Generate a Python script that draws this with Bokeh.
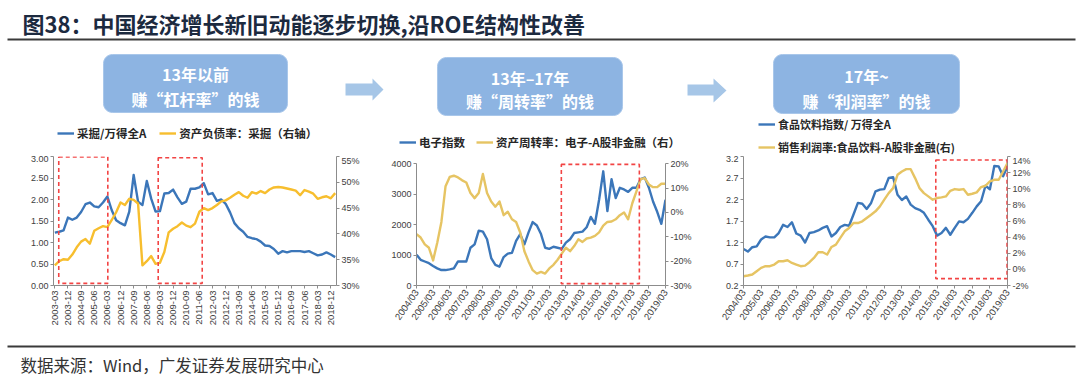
import math
from bokeh.plotting import figure
from bokeh.models import (Range1d, LinearAxis, FixedTicker, NumeralTickFormatter,
                          PrintfTickFormatter, Legend, LegendItem, BoxAnnotation)
from bokeh.layouts import column, row
from bokeh.embed import file_html
from bokeh.resources import INLINE
from bokeh.core.properties import value

# ---------------- data ----------------
title_text = "图38：中国经济增长新旧动能逐步切换,沿ROE结构性改善"
source_text = "数据来源：Wind，广发证券发展研究中心"
box_line1 = ["13年以前", "13年–17年", "17年~"]
box_line2 = ["赚“杠杆率”的钱", "赚“周转率”的钱", "赚“利润率”的钱"]

# chart 1 : quarterly 2003-03 .. 2019-03
c1_tick_labels = ["2003-03", "2003-12", "2004-09", "2005-06", "2006-03", "2006-12",
                  "2007-09", "2008-06", "2009-03", "2009-12", "2010-09", "2011-06",
                  "2012-03", "2012-12", "2013-09", "2014-06", "2015-03", "2015-12",
                  "2016-09", "2017-06", "2018-03", "2018-12"]
c1_names = ["采掘/万得全A", "资产负债率：采掘（右轴）"]
c1_blue = [1.23, 1.25, 1.28, 1.58, 1.53, 1.58, 1.71, 1.89, 1.93, 1.84,
           1.82, 1.93, 2.07, 1.75, 1.52, 1.45, 1.40, 1.72, 2.57, 1.95,
           1.87, 2.43, 2.02, 1.72, 1.73, 2.14, 2.15, 2.23, 2.05, 1.90,
           1.95, 2.25, 2.25, 2.28, 2.38, 2.12, 2.15, 1.97, 2.00, 1.90,
           1.70, 1.45, 1.33, 1.25, 1.13, 1.10, 1.08, 1.02, 0.93, 0.92,
           0.85, 0.74, 0.80, 0.77, 0.80, 0.80, 0.80, 0.78, 0.80, 0.75,
           0.70, 0.72, 0.77, 0.72, 0.66]
c1_yellow = [33.9, 34.7, 35.1, 35.0, 36.0, 37.4, 38.5, 39.0, 38.1, 40.6,
             41.1, 41.5, 41.3, 42.7, 44.2, 46.1, 45.6, 46.8, 46.6, 45.9,
             33.9, 34.7, 35.7, 34.2, 34.4, 36.5, 40.3, 41.0, 41.5, 42.2,
             41.6, 41.3, 42.0, 44.3, 45.0, 44.6, 45.0, 45.6, 46.3, 46.5,
             47.0, 47.6, 48.1, 47.4, 47.0, 48.1, 47.8, 48.3, 47.9, 48.6,
             49.0, 49.1, 49.0, 48.8, 48.6, 48.4, 47.5, 48.5, 48.2, 47.8,
             46.8, 47.1, 47.3, 46.9, 47.9]

# charts 2 and 3 : quarterly 2004/03 .. 2019/03
c23_tick_labels = ["2004/03", "2005/03", "2006/03", "2007/03", "2008/03", "2009/03",
                   "2010/03", "2011/03", "2012/03", "2013/03", "2014/03", "2015/03",
                   "2016/03", "2017/03", "2018/03", "2019/03"]
c2_names = ["电子指数", "资产周转率：电子-A股非金融（右）"]
c2_blue = [1014, 845, 789, 732, 642, 563, 507, 507, 530, 563,
           789, 789, 789, 1240, 1352, 1803, 1770, 1521, 902, 676,
           620, 935, 1048, 1071, 1465, 1690, 1352, 1747, 2085, 1972,
           1690, 1240, 1206, 1273, 1240, 1206, 1409, 1521, 1724, 1747,
           1770, 1916, 2254, 2029, 2817, 3753, 2446, 3494, 2874, 3212,
           3156, 3077, 3212, 3212, 3494, 3550, 3212, 2761, 2423, 2029, 2817]
c2_yellow = [-8.9, -10.3, -13.1, -14.5, -19.7, -12.4, -3.9, 10.8, 14.6, 15.1,
             14.4, 13.2, 12.3, 8.0, 5.9, 8.0, 15.8, 8.0, 4.5, 2.4,
             4.5, -1.1, 0.3, -2.8, -3.9, -8.2, -15.9, -20.1, -23.7, -25.1,
             -24.4, -25.1, -23.0, -21.5, -19.4, -16.9, -14.5, -15.9, -13.8, -11.0,
             -12.1, -10.7, -10.3, -9.6, -8.2, -5.4, -3.9, -3.7, -2.8, -1.1,
             0.0, -2.8, 3.8, 8.7, 13.7, 14.1, 11.5, 10.4, 10.4, 11.8, 11.8]
c3_names = ["食品饮料指数/ 万得全A", "销售利润率:食品饮料-A股非金融(右)"]
c3_blue = [1.05, 0.99, 1.09, 1.11, 1.27, 1.34, 1.32, 1.32, 1.42, 1.61,
           1.56, 1.67, 1.41, 1.36, 1.20, 1.42, 1.44, 1.48, 1.54, 1.58,
           1.34, 1.42, 1.56, 1.61, 1.59, 1.85, 2.12, 2.10, 1.98, 2.12,
           2.39, 2.43, 2.44, 2.70, 2.72, 2.31, 2.19, 2.27, 2.08, 2.00,
           1.96, 1.89, 1.73, 1.58, 1.36, 1.42, 1.54, 1.38, 1.54, 1.69,
           1.67, 1.75, 1.89, 2.04, 2.16, 2.52, 2.44, 2.98, 2.97, 2.74, 2.97]
c3_yellow = [-0.85, -0.76, -0.64, -0.23, 0.19, 0.39, 0.39, 0.60, 1.01, 1.01,
             1.13, 0.80, 0.60, 0.39, 0.47, 0.89, 1.42, 2.12, 2.12, 1.84,
             2.78, 3.07, 3.90, 4.72, 5.13, 5.75, 5.75, 5.96, 6.37, 6.78,
             7.20, 7.81, 8.64, 9.46, 10.08, 11.73, 12.14, 12.43, 12.43, 11.32,
             10.08, 9.46, 9.05, 8.64, 8.85, 8.93, 9.05, 9.75, 9.96, 9.88,
             9.96, 9.26, 9.38, 9.55, 10.21, 10.37, 10.91, 11.11, 11.11, 12.14, 13.18]

# ---------------- styles ----------------
CJK = "Noto Sans CJK SC"
LAT = "Liberation Sans"
BLUE = "#3B76B9"
GOLD1 = "#F7BE2E"
GOLD2 = "#E6C463"
RED = "#F24444"
AXIS_C = "#8C8C8C"
LBL_C = "#404040"
BOX_C = "#8DB4E2"
ARROW_C = "#A6C6E7"
HDR_H = 155          # header height (page y 0..155)
ROW_H = 185          # charts row from 155 to 340
BT, BB = 1, 55       # chart frames from y=156 to y=285


def style_axis(ax, size="9px"):
    ax.axis_line_color = AXIS_C
    ax.major_tick_line_color = AXIS_C
    ax.major_tick_out = 3
    ax.major_tick_in = 0
    ax.minor_tick_line_color = None
    ax.major_label_text_font = LAT
    ax.major_label_text_font_size = size
    ax.major_label_text_color = LBL_C
    ax.major_label_standoff = 2


def make_chart(width, bl, br, xr, yl, yl_bounds, yr, yr_bounds, ticks_x, labels_x,
               orient, yl_ticks, yl_fmt, yr_ticks, xs, blue, yellow, gold, boxes):
    p = figure(width=width, height=ROW_H, x_range=Range1d(*xr), y_range=Range1d(*yl),
               output_backend="svg", toolbar_location=None,
               min_border_left=bl, min_border_right=br, min_border_top=BT,
               min_border_bottom=BB)
    p.outline_line_color = None
    p.grid.visible = False
    p.extra_y_ranges = {"r": Range1d(*yr)}
    rax = LinearAxis(y_range_name="r")
    p.add_layout(rax, "right")
    for ax in [p.yaxis[0], rax]:
        style_axis(ax)
    style_axis(p.xaxis[0], "9.5px")
    p.xaxis.ticker = FixedTicker(ticks=ticks_x)
    p.xaxis.major_label_overrides = {t: l for t, l in zip(ticks_x, labels_x)}
    p.xaxis.major_label_orientation = orient
    p.yaxis[0].ticker = FixedTicker(ticks=yl_ticks)
    p.yaxis[0].formatter = NumeralTickFormatter(format=yl_fmt)
    p.yaxis[0].bounds = yl_bounds
    rax.ticker = FixedTicker(ticks=yr_ticks)
    rax.formatter = PrintfTickFormatter(format="%d%%")
    rax.bounds = yr_bounds

    for (l, r, b, t) in boxes:
        p.add_layout(BoxAnnotation(left=l, right=r, bottom=b, top=t,
                                   fill_color=None, fill_alpha=0,
                                   line_color=RED, line_alpha=1.0, line_width=1.6,
                                   line_dash="4 3"))

    p.line(xs, blue, line_color=BLUE, line_width=2.4, line_join="round")
    p.line(xs, yellow, line_color=gold, line_width=2.4, line_join="round",
           y_range_name="r")
    return p


# chart 1 (frame x 53..336)
x1 = list(range(len(c1_blue)))
c1 = make_chart(370, 53, 34, (-0.3, 64.3), (0, 3), (0, 3), (30, 55), (30, 55),
                list(range(0, 64, 3)), c1_tick_labels, math.pi / 2,
                [0, 0.5, 1.0, 1.5, 2.0, 2.5, 3.0], "0.00", [30, 35, 40, 45, 50, 55],
                x1, c1_blue, c1_yellow, GOLD1,
                [(0.9, 12.1, 0.05, 2.99), (23.6, 33.65, 0.05, 2.97)])

# chart 2 (frame x 416..665)
x2 = list(range(len(c2_blue)))
c2 = make_chart(345, 46, 50, (0, 60), (0, 4240), (0, 4000), (-30, 23), (-30, 20),
                list(range(0, 61, 4)), c23_tick_labels, 0.96,
                [0, 1000, 2000, 3000, 4000], "0", [-30, -20, -10, 0, 10, 20],
                x2, c2_blue, c2_yellow, GOLD2,
                [(34.9, 53.7, 60, 3980)])

# chart 3 (frame x 743..1007)
x3 = list(range(len(c3_blue)))
c3 = make_chart(365, 28, 73, (0, 60), (0.2, 3.2), (0.2, 3.2), (-2, 14), (-2, 14),
                list(range(0, 61, 4)), c23_tick_labels, 0.96,
                [0.2, 0.7, 1.2, 1.7, 2.2, 2.7, 3.2], "0.0",
                [-2, 0, 2, 4, 6, 8, 10, 12, 14],
                x3, c3_blue, c3_yellow, GOLD2,
                [(43.7, 59.9, 0.36, 3.12)])

# ---------------- header (title, boxes, arrows, legends) ----------------
hdr = figure(width=1080, height=HDR_H, x_range=Range1d(0, 1080), y_range=Range1d(HDR_H, 0),
             output_backend="svg", toolbar_location=None,
             x_axis_location=None, y_axis_location=None, min_border=0)
hdr.outline_line_color = None
hdr.grid.visible = False


def rounded_rect(x0, x1, y0, y1, r, n=8):
    xs, ys = [], []
    corners = [(x0 + r, y0 + r, 180), (x1 - r, y0 + r, 270),
               (x1 - r, y1 - r, 0), (x0 + r, y1 - r, 90)]
    for cx, cy, a0 in corners:
        for k in range(n + 1):
            a = math.radians(a0 + 90 * k / n)
            xs.append(cx + r * math.cos(a))
            ys.append(cy + r * math.sin(a))
    return xs, ys


box_geom = [(103, 287, 54, 112), (437, 622, 57, 115), (773, 959, 54, 113)]
line1_y = [73, 77, 75]
line2_y = [98, 100, 100]
for (bx0, bx1, by0, by1) in box_geom:
    rx, ry = rounded_rect(bx0, bx1, by0, by1, 9)
    hdr.patch(rx, ry, fill_color=BOX_C, line_color="#A9C7EA", line_width=1)

cx = [(g[0] + g[1]) / 2 for g in box_geom]
for ys_, txt in [(line1_y, box_line1), (line2_y, box_line2)]:
    hdr.text(x=cx, y=ys_, text=txt, text_font=value(CJK),
             text_font_size=value("16px"), text_font_style="bold", text_color="white",
             text_align="center", text_baseline="middle")

arrow_geom = [(345, 372, 383, 83, 95, 78, 100), (687, 713, 726, 84, 95, 78, 102)]
for (ax0, ax1, ax2, sy0, sy1, hy0, hy1) in arrow_geom:
    mid = (hy0 + hy1) / 2
    hdr.patch([ax0, ax1, ax1, ax2, ax1, ax1, ax0],
              [sy0, sy0, hy0, mid, hy1, sy1, sy1],
              fill_color=ARROW_C, line_color=None)

hdr.text(x=[22], y=[22], text=[title_text], text_font=value(CJK),
         text_font_size=value("22px"), text_font_style="bold", text_color="#1C2A3F",
         text_align="left", text_baseline="middle")
hdr.line([7, 1075], [39, 39], line_color="#3A3A3A", line_width=2)


# legends of the three charts (same colours / widths as the chart lines);
# the sample renderers hold a segment placed outside the visible header area
def legend_for(names, colors, loc, orient, spacing, lh, fs):
    items = []
    for n, c in zip(names, colors):
        r = hdr.line([-60, -40], [-60, -40], line_color=c, line_width=2.4)
        items.append(LegendItem(label=n, renderers=[r]))
    leg = Legend(items=items, location=loc, orientation=orient, spacing=spacing,
                 padding=0, margin=0, glyph_width=17, glyph_height=lh,
                 label_height=lh, label_standoff=3,
                 border_line_color=None, background_fill_alpha=0,
                 label_text_font=CJK, label_text_font_size=fs,
                 label_text_font_style="bold", label_text_color="#262626")
    hdr.add_layout(leg, "center")


# locations: (left x, distance of legend bottom above header bottom)
legend_for(c1_names, [BLUE, GOLD1], (57, HDR_H - 141), "horizontal", 13, 16, "11.5px")
legend_for(c2_names, [BLUE, GOLD2], (399, HDR_H - 150), "horizontal", 11, 16, "11.5px")
legend_for(c3_names, [BLUE, GOLD2], (758, 0), "vertical", 7, 16, "11px")

# ---------------- footer ----------------
ftr = figure(width=1080, height=42, x_range=Range1d(0, 1080), y_range=Range1d(382, 340),
             output_backend="svg", toolbar_location=None,
             x_axis_location=None, y_axis_location=None, min_border=0)
ftr.outline_line_color = None
ftr.grid.visible = False
ftr.line([7, 1075], [346, 346], line_color="#3A3A3A", line_width=2)
ftr.text(x=[20], y=[364], text=[source_text], text_font=value(CJK),
         text_font_size=value("16.5px"), text_color="#333333",
         text_align="left", text_baseline="middle")

layout = column(hdr, row(c1, c2, c3), ftr)
open("out.html", "w").write(file_html(layout, INLINE, title="chart"))
